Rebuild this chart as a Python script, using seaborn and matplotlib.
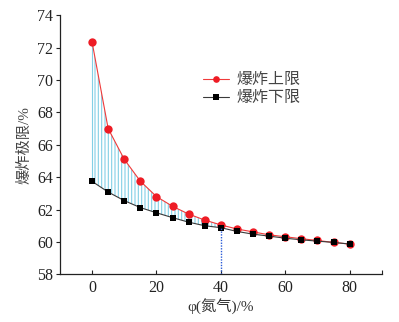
import numpy as np
import pandas as pd
import matplotlib
matplotlib.use("Agg")
import matplotlib.pyplot as plt
import seaborn as sns

n2 = [0, 5, 10, 15, 20, 25, 30, 35, 40, 45, 50, 55, 60, 65, 70, 75, 80]
upper = [72.35, 67.0, 65.1, 63.75, 62.8, 62.2, 61.72, 61.35, 61.05, 60.8, 60.62, 60.44, 60.32, 60.2, 60.09, 59.97, 59.87]
lower = [63.74, 63.08, 62.55, 62.12, 61.8, 61.5, 61.22, 61.0, 60.88, 60.65, 60.48, 60.36, 60.23, 60.13, 60.05, 59.97, 59.87]
xticks = [0, 20, 40, 60, 80]
yticks = [58, 60, 62, 64, 66, 68, 70, 72, 74]
hatch_end = 40

sns.set_theme(style="ticks")
fam = ['Liberation Serif', 'Noto Sans CJK SC', 'DejaVu Sans']
plt.rcParams['font.family'] = fam
plt.rcParams['hatch.linewidth'] = 0.8

fig = plt.figure(figsize=(3.99, 3.22), dpi=100)
ax = fig.add_axes([0.150, 0.148, 0.807, 0.805])

xa = np.array(n2)
mask = xa <= hatch_end
ax.fill_between(xa[mask], np.array(lower)[mask], np.array(upper)[mask],
                facecolor='none', edgecolor='#84d0e6', hatch='|||||', linewidth=0)
ax.vlines(n2[0], lower[0], upper[0], color='#84d0e6', lw=0.8)

sns.lineplot(x=n2, y=upper, color='#f03a3a', marker='o', markersize=6,
             markerfacecolor='#ee1c25', markeredgewidth=0, linewidth=0.8,
             label='爆炸上限', ax=ax)
sns.lineplot(x=n2, y=lower, color='#3a3a3a', marker='s', markersize=5,
             markerfacecolor='#000000', markeredgewidth=0, linewidth=0.8,
             label='爆炸下限', ax=ax)

i40 = n2.index(hatch_end)
ax.vlines(hatch_end, 58, lower[i40], color='#2a5bd7', lw=1.0, linestyles=(0, (1, 1)))

ax.set_xlim(-10, 90)
ax.set_ylim(58, 74)
ax.set_xticks(xticks + [90])
ax.set_xticklabels([str(v) for v in xticks] + [''])
ax.set_yticks(yticks)
ax.tick_params(axis='x', direction='in', length=3, width=0.8, labelsize=11.5, colors='#222222', pad=4)
ax.tick_params(axis='y', direction='out', length=3, width=0.8, labelsize=11.5, colors='#222222', pad=2)
for s in ['top', 'right']:
    ax.spines[s].set_visible(False)
for s in ['left', 'bottom']:
    ax.spines[s].set_linewidth(0.9)
    ax.spines[s].set_color('#222222')

ax.set_xlabel('φ(氮气)/%', fontsize=11, color='#333333', labelpad=2)
ax.set_ylabel('爆炸极限/%', fontsize=11, color='#444444', labelpad=4)

leg = ax.legend(loc='upper left', bbox_to_anchor=(0.40, 0.835), frameon=False,
                fontsize=11.5, handlelength=1.6, handletextpad=0.5, labelspacing=0.12,
                markerscale=0.8)
for t in leg.get_texts():
    t.set_color('#444444')

fig.savefig('out.png', dpi=100)
